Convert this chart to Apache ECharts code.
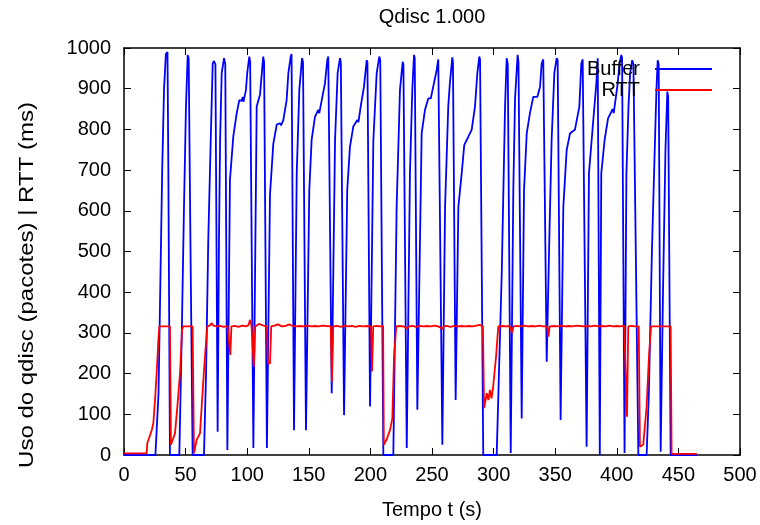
<!DOCTYPE html>
<html>
<head>
<meta charset="utf-8">
<script src="https://cdn.jsdelivr.net/npm/echarts@6/dist/echarts.min.js"></script>
<style>
  html, body { margin: 0; padding: 0; background: #fff; }
  #chart { width: 760px; height: 525px; }
</style>
</head>
<body>
<div id="chart"></div>
<script>
// Queue occupancy (packets) over time, [t in s, packets]
const bufferSamples = [
  [0,0],[25.5,0],[28,150],[29.5,420],[31,700],[32.5,900],[34,985],[35.3,990],[36,700],[37.3,0],
  [44.9,0],[46.8,283],[48.7,610],[50.3,856],[51.7,983],[52.5,975],[54,500],[55.7,0],
  [64.9,0],[66.6,201],[68.4,528],[70.4,774],[72,962],[73,968],[74.2,960],[76,57],
  [77.1,528],[78,774],[79.3,938],[81.2,975],[82.2,960],[83.9,12],
  [86,676],[88.7,782],[91.5,840],[93.6,872],[95.5,870],[96.3,880],[97,868],[99,897],[100,938],[101.7,979],[102.4,965],[105,17],
  [107.7,856],[110.4,886],[113,979],[113.7,965],[116,17],
  [118.5,640],[121.2,765],[124,812],[126.6,815],[127.5,810],[129.3,823],[132,872],[133.4,938],[135.3,979],[136,985],[138,61],
  [140.2,692],[142.3,897],[144.5,975],[145.3,965],[147.7,61],
  [150.4,651],[152.3,774],[155,831],[157.7,848],[158.5,840],[160.5,872],[163.1,913],[165,970],[165.8,979],[168.6,152],
  [171.3,774],[173.4,938],[175.3,975],[176,965],[178.6,98],
  [181.2,651],[183.4,757],[186.1,807],[189.4,823],[190.3,818],[192.1,856],[194.8,905],[197,970],[197.6,965],[199.7,119],
  [202.4,774],[205.1,938],[207.2,979],[208,970],[210.5,0],[218.6,0],
  [221.3,610],[224,897],[226.2,966],[226.8,960],[229.5,17],
  [232.1,692],[234,897],[235.4,983],[236,975],[238.1,111],
  [241.6,790],[244.3,848],[247,876],[249,876],[251,905],[253.8,946],[255.1,972],[256,972],[258.4,25],
  [260.6,610],[263.2,856],[264.5,913],[266.5,977],[267,965],[269.2,135],
  [271.4,610],[274.1,692],[276.2,762],[279.5,782],[280.5,780],[282.2,799],[284.9,856],[286.8,938],[288.4,979],[289,972],[291.6,0],
  [302.5,0],[306.6,446],[309.3,856],[310.6,975],[311.5,960],[313.9,5],
  [316,651],[317.4,876],[319.5,983],[320.2,965],[322.8,90],
  [324.7,651],[326.9,790],[329.5,840],[332.2,880],[335.5,880],[337.7,905],[339,962],[340.3,972],[341,968],[343.1,229],
  [345.2,528],[347.1,774],[349.3,938],[351.2,975],[352,970],[354.4,86],
  [356.6,610],[359.3,749],[362,790],[364,795],[366,799],[369.6,856],[371.2,962],[372.3,972],[375.5,20],
  [377.4,692],[380.7,815],[383.4,913],[384.5,975],[386.2,0],
  [387.4,692],[390.1,774],[392.9,827],[395.5,843],[396.5,850],[397.5,840],[400.4,905],[402.3,962],[403.6,983],[404.3,975],[406.3,5],
  [407.8,692],[409.5,856],[410.8,938],[412.5,970],[413.5,960],[417.5,0],
  [424.2,0],[426,150],[428.5,500],[430.7,740],[432.2,900],[433.2,970],[434,960],[435.6,8],
  [437.5,400],[439.5,750],[441,893],[441.7,880],[443.7,0],[465,0]
];

// Round-trip time (ms), [t in s, ms]
const rttSamples = [
  [0,4],[18.4,4],[18.9,29],[20.5,31],[22.5,61],[23.8,78],[25.2,135],[26.5,201],[27.9,283],[28.7,316],[37.3,316],
  [38.1,25],[39.5,37],[41.4,53],[43.3,119],[45.5,201],[47.1,308],[48.1,316],[55.7,316],
  [56.8,4],[59,37],[61.7,53],[63.9,160],[65.7,242],[67.6,316],[69.5,318],[71.2,324],[72.5,318],
  [75,316],[78,317],[81,315],[84,317],[85.5,316],[86.3,246],[87.2,316],[90,317],[93,315],[96,318],[99,316],
  [101,319],[102.3,332],[103.5,318],[104.6,316],[105.4,217],[106.5,316],[108,318],[109.5,322],[111,318],[114,317],
  [116,316],[116.8,225],[118.5,225],[119.5,316],[122,318],[125,321],[128,316],[131,317],[134,321],[137,317],
  [140,316],[143,317],[146,316],[149,318],[152,316],[155,317],[158,316],[161,318],[164,317],
  [167.8,316],[168.8,180],[169.8,316],[173,317],[176,315],[179,318],[182,316],[185,317],[188,315],[191,317],[194,316],[197,317],
  [200.5,316],[201.3,205],[202.3,316],[205,317],[206.4,321],[208,316],[210.3,317],
  [210.9,25],[213,37],[215.9,61],[217.8,90],[219.2,242],[221,316],[224,317],[227,316],[229.7,310],[231,316],
  [234,317],[237,315],[240,317],[243,316],[246,317],[249,316],[252,318],[255,316],[258.6,310],[259.6,316],
  [262,317],[265,315],[268,317],[271,316],[274,317],[277,316],[280,317],[283,316],[286,318],[288.5,320],[291.3,316],
  [292.3,115],[294.5,152],[295.8,135],[297,160],[298.3,139],[299.5,164],[302,242],[303.8,316],
  [307,317],[310,316],[313,317],[315,300],[316.2,316],[319,317],[322,316],[325,318],[328,316],[331,317],[334,316],
  [337,318],[340,316],[343.5,316],[344.5,291],[345.5,316],[349,317],[352,316],[355,318],[358,316],[361,317],
  [364,316],[367,318],[370,317],[373,316],[376,317],[379,316],[382,318],[385,316],[388,317],[391,316],[394,318],
  [397,316],[400,317],[403,316],[406,318],[407.5,320],[408.3,94],[409.3,316],[412,317],[415,316],[417.8,316],
  [418.8,20],[421.5,26],[424.2,119],[426.1,242],[427.8,316],[443.7,316],[444.5,3],[465,3]
];

const xTicks = { min: 0, max: 500, interval: 50 };
const yTicks = { min: 0, max: 1000, interval: 100 };
const yAxisTitle = 'Uso do qdisc (pacotes) | RTT (ms)';

const FONT = '"Liberation Sans", Arial, Helvetica, sans-serif';
const frame = { lineStyle: { color: '#000', width: 1.5 } };
const innerTick = { show: true, inside: true, length: 7, lineStyle: { color: '#000', width: 1 } };
const plainNumber = (v) => String(v);

const chart = echarts.init(document.getElementById('chart'), null, { renderer: 'canvas' });

chart.setOption({
  animation: false,
  backgroundColor: '#fff',
  textStyle: { fontFamily: FONT, color: '#000' },
  title: {
    text: 'Qdisc 1.000',
    left: 432,
    top: 7,
    padding: 0,
    textAlign: 'center',
    textStyle: { fontFamily: FONT, fontSize: 20, fontWeight: 'normal', color: '#000' }
  },
  legend: [
    {
      data: ['Buffer'], right: 48, top: 59, padding: 0, align: 'right',
      icon: 'rect', itemWidth: 57, itemHeight: 2,
      textStyle: { fontFamily: FONT, fontSize: 20, color: '#000', padding: [0, 10, 0, 0] }
    },
    {
      data: ['RTT'], right: 48, top: 80, padding: 0, align: 'right',
      icon: 'rect', itemWidth: 57, itemHeight: 2,
      textStyle: { fontFamily: FONT, fontSize: 20, color: '#000', padding: [0, 10, 0, 0] }
    }
  ],
  // vertical axis title, slightly elongated along its reading direction
  graphic: [
    {
      type: 'text',
      x: 27, y: 285,
      rotation: Math.PI / 2,
      scaleX: 1.2,
      style: {
        text: yAxisTitle,
        font: '20px "Liberation Sans", Arial, sans-serif',
        fill: '#000',
        align: 'center',
        verticalAlign: 'middle'
      }
    }
  ],
  grid: { left: 124, right: 20, top: 48, bottom: 70, containLabel: false },
  xAxis: [
    {
      type: 'value', position: 'bottom', ...xTicks,
      name: 'Tempo t (s)', nameLocation: 'middle', nameGap: 45,
      nameTextStyle: { fontFamily: FONT, fontSize: 20, color: '#000' },
      axisLine: { show: true, onZero: false, ...frame },
      axisTick: innerTick,
      axisLabel: { fontFamily: FONT, fontSize: 20, color: '#000', margin: 10, formatter: plainNumber },
      splitLine: { show: false }
    },
    {
      type: 'value', position: 'top', ...xTicks,
      axisLine: { show: true, onZero: false, ...frame },
      axisTick: innerTick,
      axisLabel: { show: false },
      splitLine: { show: false }
    }
  ],
  yAxis: [
    {
      type: 'value', position: 'left', ...yTicks,
      axisLine: { show: true, onZero: false, ...frame },
      axisTick: innerTick,
      axisLabel: { fontFamily: FONT, fontSize: 20, color: '#000', margin: 13, formatter: plainNumber },
      splitLine: { show: false }
    },
    {
      type: 'value', position: 'right', ...yTicks,
      axisLine: { show: true, onZero: false, ...frame },
      axisTick: innerTick,
      axisLabel: { show: false },
      splitLine: { show: false }
    }
  ],
  series: [
    {
      name: 'Buffer', type: 'line', xAxisIndex: 0, yAxisIndex: 0,
      data: bufferSamples, showSymbol: false, symbol: 'none',
      lineStyle: { color: '#0000ff', width: 1.8 }, itemStyle: { color: '#0000ff' },
      z: 2
    },
    {
      name: 'RTT', type: 'line', xAxisIndex: 0, yAxisIndex: 0,
      data: rttSamples, showSymbol: false, symbol: 'none',
      lineStyle: { color: '#ff0000', width: 1.8 }, itemStyle: { color: '#ff0000' },
      z: 3
    }
  ]
});
</script>
</body>
</html>
